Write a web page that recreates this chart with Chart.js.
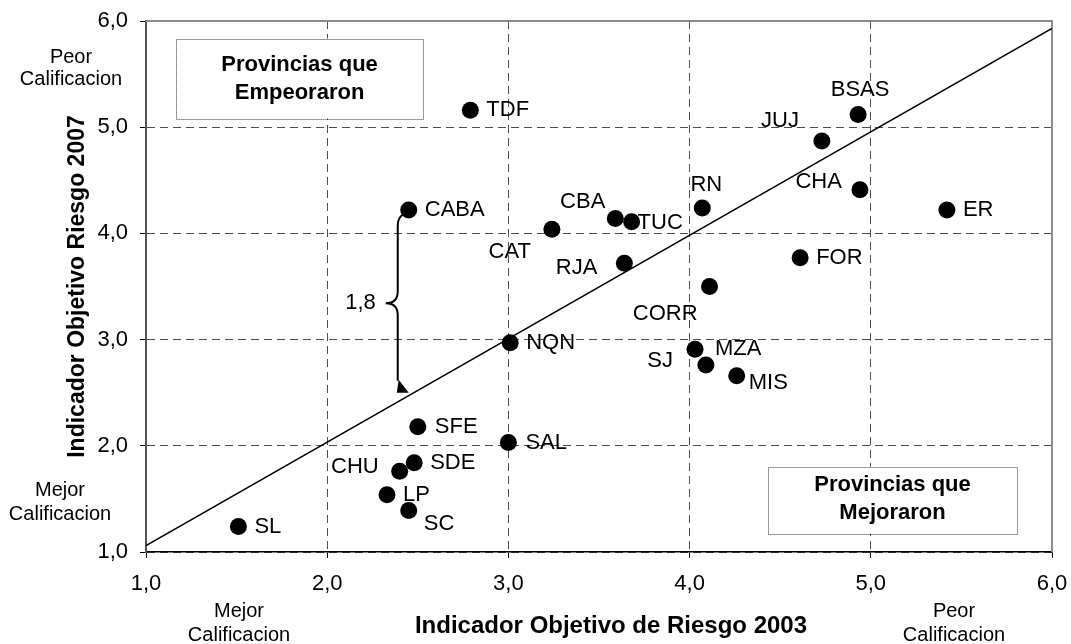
<!DOCTYPE html>
<html>
<head>
<meta charset="utf-8">
<script src="https://cdn.jsdelivr.net/npm/chart.js@4.4.0/dist/chart.umd.min.js"></script>
<style>
  body { margin: 0; background: #fff; }
  #wrap { width: 1071px; height: 644px; }
</style>
</head>
<body>
<div id="wrap"><canvas id="chart" width="1071" height="644"></canvas></div>
<script>
// Provincias y sus indicadores de riesgo
const provinces = ["SL", "LP", "SC", "CHU", "SDE", "SFE", "SAL", "NQN", "CABA", "TDF", "CAT", "CBA",
                   "TUC", "RJA", "RN", "CORR", "MZA", "SJ", "MIS", "FOR", "JUJ", "BSAS", "CHA", "ER"];
const risk2003 = [1.51, 2.33, 2.45, 2.40, 2.48, 2.50, 3.00, 3.01, 2.45, 2.79, 3.24, 3.59,
                  3.68, 3.64, 4.07, 4.11, 4.03, 4.09, 4.26, 4.61, 4.73, 4.93, 4.94, 5.42];
const risk2007 = [1.24, 1.54, 1.39, 1.76, 1.84, 2.18, 2.03, 2.97, 4.22, 5.16, 4.04, 4.14,
                  4.11, 3.72, 4.24, 3.50, 2.91, 2.76, 2.66, 3.77, 4.87, 5.12, 4.41, 4.22];

// reference line
const refLineX = [1.0, 6.0];
const refLineY = [1.06, 5.93];

// brace CABA -> line
const braceFrom = 4.22;
const braceTo = 2.50;
const braceText = "1,8";

// label placement next to each point: [dx, dy, align]
const labelPos = [
    [16, 0, 'left'], [16, 0, 'left'], [15, 13, 'left'], [-21, -4, 'right'],
    [16, 0, 'left'], [17, 0, 'left'], [17, 0, 'left'], [16, 0, 'left'],
    [16, 0, 'left'], [16, 0, 'left'], [-21, 23, 'right'], [-10, -17, 'right'],
    [6, 1, 'left'], [-27, 5, 'right'], [4, -23, 'center'], [-12, 27, 'right'],
    [20, 0, 'left'], [-33, -4, 'right'], [12, 7, 'left'], [16, 0, 'left'],
    [-23, -20, 'right'], [2, -25, 'center'], [-18, -8, 'right'], [16, 0, 'left']
];

// text boxes inside the plot (in axis units)
const boxes = [
    { x: [1.166, 2.529], y: [5.082, 5.835], lines: ["Provincias que", "Empeoraron"], offs: [-14, 14] },
    { x: [4.433, 5.807], y: [1.174, 1.805], lines: ["Provincias que", "Mejoraron"], offs: [-15, 13] }
];

const FONT = "'Liberation Sans', Arial, sans-serif";
const fmt = v => v.toFixed(1).replace('.', ',');

function text2(ctx, lines, cx, ys) {
    lines.forEach((t, i) => ctx.fillText(t, cx, ys[i]));
}

const decorPlugin = {
    id: 'decor',
    beforeDatasetsDraw(chart) {
        const { ctx, chartArea: a, scales: { x, y } } = chart;
        ctx.save();
        // top and right frame
        ctx.strokeStyle = '#8c8c8c';
        ctx.lineWidth = 2;
        ctx.beginPath();
        ctx.moveTo(a.left, a.top);
        ctx.lineTo(a.right, a.top);
        ctx.lineTo(a.right, a.bottom);
        ctx.stroke();

        // dotted boxes
        boxes.forEach(b => {
            const x1 = x.getPixelForValue(b.x[0]), x2 = x.getPixelForValue(b.x[1]);
            const y1 = y.getPixelForValue(b.y[1]), y2 = y.getPixelForValue(b.y[0]);
            ctx.fillStyle = '#fff';
            ctx.fillRect(x1, y1, x2 - x1, y2 - y1);
            ctx.setLineDash([1, 1]);
            ctx.strokeStyle = '#333';
            ctx.lineWidth = 1;
            ctx.strokeRect(Math.round(x1) + 0.5, Math.round(y1) + 0.5, x2 - x1, y2 - y1);
            ctx.setLineDash([]);
            ctx.fillStyle = '#000';
            ctx.font = "bold 22px " + FONT;
            ctx.textAlign = 'center';
            ctx.textBaseline = 'middle';
            const cy = (y1 + y2) / 2;
            text2(ctx, b.lines, (x1 + x2) / 2, b.offs.map(o => cy + o));
        });
        ctx.restore();
    },
    afterDatasetsDraw(chart) {
        const { ctx, scales: { x, y } } = chart;
        const meta = chart.getDatasetMeta(0);
        ctx.save();
        ctx.fillStyle = '#000';
        ctx.textBaseline = 'middle';

        // point labels
        ctx.font = "22px " + FONT;
        meta.data.forEach((pt, i) => {
            const [dx, dy, al] = labelPos[i];
            ctx.textAlign = al;
            ctx.fillText(provinces[i], pt.x + dx, pt.y + dy);
        });

        // brace from CABA down to the line
        const xb = x.getPixelForValue(risk2003[8]) - 11;
        const yt = y.getPixelForValue(braceFrom) + 4;
        const yb = y.getPixelForValue(braceTo);
        const ym = (yt + yb) / 2;
        ctx.strokeStyle = '#000';
        ctx.lineWidth = 2;
        ctx.beginPath();
        ctx.moveTo(xb + 7, yt);
        ctx.quadraticCurveTo(xb, yt + 2, xb, yt + 12);
        ctx.lineTo(xb, ym - 12);
        ctx.quadraticCurveTo(xb, ym, xb - 12, ym);
        ctx.quadraticCurveTo(xb, ym, xb, ym + 12);
        ctx.lineTo(xb, yb - 12);
        ctx.stroke();
        ctx.beginPath();
        ctx.moveTo(xb + 1, yb - 13);
        ctx.lineTo(xb - 1, yb);
        ctx.lineTo(xb + 11, yb);
        ctx.closePath();
        ctx.fill();
        ctx.font = "22px " + FONT;
        ctx.textAlign = 'right';
        ctx.fillText(braceText, xb - 22, ym);

        // side notes
        ctx.font = "20px " + FONT;
        ctx.textAlign = 'center';
        text2(ctx, ["Peor", "Calificacion"], 71, [57, 79]);
        text2(ctx, ["Mejor", "Calificacion"], 60, [490, 514]);
        text2(ctx, ["Mejor", "Calificacion"], 239, [611, 635]);
        text2(ctx, ["Peor", "Calificacion"], 954, [611, 635]);

        // x axis title
        ctx.font = "bold 24px " + FONT;
        ctx.fillText("Indicador Objetivo de Riesgo 2003", 611, 626);
        ctx.restore();
    }
};

new Chart(document.getElementById('chart'), {
    type: 'scatter',
    plugins: [decorPlugin],
    data: {
        datasets: [
            {
                label: 'Provincias',
                data: provinces.map((p, i) => ({ x: risk2003[i], y: risk2007[i] })),
                backgroundColor: '#000',
                borderWidth: 0,
                pointRadius: 8.5,
                pointHoverRadius: 8.5
            },
            {
                label: 'Referencia',
                data: refLineX.map((v, i) => ({ x: v, y: refLineY[i] })),
                showLine: true,
                borderColor: '#000',
                borderWidth: 1.5,
                pointRadius: 0
            }
        ]
    },
    options: {
        responsive: false,
        animation: false,
        layout: { padding: { top: 21, right: 19, left: 0, bottom: 0 } },
        plugins: {
            legend: { display: false },
            tooltip: { enabled: false }
        },
        scales: {
            x: {
                type: 'linear',
                min: 1, max: 6,
                ticks: {
                    stepSize: 1,
                    callback: v => fmt(v),
                    color: '#000',
                    font: { family: FONT, size: 22 },
                    padding: 13,
                    maxRotation: 0
                },
                grid: { color: '#4d4d4d', lineWidth: 1, tickLength: 6, tickColor: '#000' },
                border: { color: '#000', width: 1.5, dash: [8, 5] },
                afterFit(s) { s.height = 92; s.paddingLeft = 0; s.paddingRight = 0; }
            },
            y: {
                type: 'linear',
                min: 1, max: 6,
                ticks: {
                    stepSize: 1,
                    callback: v => fmt(v),
                    color: '#000',
                    font: { family: FONT, size: 22 },
                    padding: 12
                },
                grid: { color: '#4d4d4d', lineWidth: 1, tickLength: 6, tickColor: '#000' },
                border: { color: '#555', width: 2, dash: [8, 5] },
                title: {
                    display: true,
                    text: 'Indicador Objetivo Riesgo 2007',
                    color: '#000',
                    font: { family: FONT, size: 23, weight: 'bold' },
                    padding: { top: 64, bottom: 0 }
                },
                afterFit(s) { s.width = 146; s.paddingTop = 0; s.paddingBottom = 0; }
            }
        }
    }
});
</script>
</body>
</html>
